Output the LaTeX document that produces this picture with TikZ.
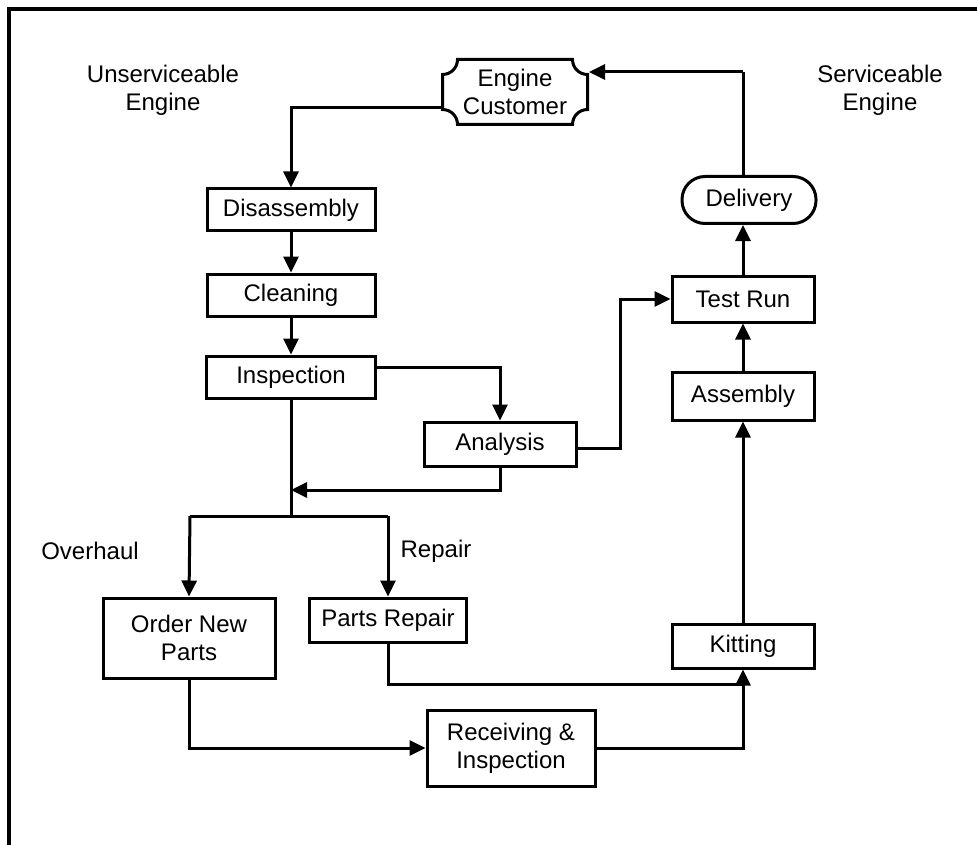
\documentclass[tikz,border=0pt]{standalone}
\usepackage{fontspec}
\setmainfont{Liberation Sans}
\usetikzlibrary{arrows.meta,calc}

\begin{document}
\begin{tikzpicture}[x=1pt,y=-1pt,
  line width=3pt,
  txt/.style={font=\fontsize{24}{28}\selectfont, align=center, inner sep=0pt},
  box/.style={txt, draw, rectangle, minimum height=46pt},
  pill/.style={txt, draw, rectangle, rounded corners=23pt},
  link/.style={-{Triangle[length=16pt,width=15pt]}, line width=3pt},
  wire/.style={line width=3pt}
]
\useasboundingbox (0,0) rectangle (977,845);

% frame: top and left rules
\draw[line width=3.5pt] (9,845) -- (9,9) -- (977,9);

% customer terminal with notched corners
\node[txt, minimum width=145pt, minimum height=65pt] (cust) at (515,92) {Engine\\Customer};
\draw[shift={(cust.center)}]
  (-57.5,-32.5) -- (57.5,-32.5)
  .. controls (57.5,-24.2) and (64.2,-17.5) .. (72.5,-17.5)
  -- (72.5,17.5)
  .. controls (64.2,17.5) and (57.5,24.2) .. (57.5,32.5)
  -- (-57.5,32.5)
  .. controls (-57.5,24.2) and (-64.2,17.5) .. (-72.5,17.5)
  -- (-72.5,-17.5)
  .. controls (-64.2,-17.5) and (-57.5,-24.2) .. (-57.5,-32.5) -- cycle;

% free labels
\node[txt] (unsv) at (163,90) {Unserviceable\\Engine};
\node[txt] (serv) at (880,90) {Serviceable\\Engine};
\node[txt] (ovh) at (90,551) {Overhaul};
\node[txt] (rep) at (436,551) {Repair};

% left column
\node[box, minimum width=168pt, minimum height=42pt] (dis) at (291,210) {Disassembly};
\node[box, minimum width=168pt, minimum height=42pt] (clean) at (291,295) {Cleaning};
\node[box, minimum width=169pt, minimum height=42pt] (insp) at (291,377) {Inspection};
\node[box, minimum width=152pt, minimum height=44pt] (ana) at (500,444) {Analysis};

% branch targets
\node[box, minimum width=172pt, minimum height=80pt] (order) at (189,638) {Order New\\Parts};
\node[box, minimum width=157pt, minimum height=44pt] (prep) at (388,620) {Parts Repair};
\node[box, minimum width=168pt, minimum height=76pt] (recv) at (511,748) {Receiving \&\\Inspection};

% right column
\node[box, minimum width=142pt, minimum height=44pt] (kit) at (743,646) {Kitting};
\node[box, minimum width=142pt, minimum height=48pt] (asm) at (743,396) {Assembly};
\node[box, minimum width=142pt, minimum height=46pt] (test) at (743,299) {Test Run};
\node[pill, minimum width=134pt, minimum height=47pt] (deliv) at (749,200) {Delivery};

% junction points
\coordinate (jc) at (291,108);
\coordinate (jr) at (291,490);
\coordinate (js) at (291,516);
\coordinate (jl) at (190,516);
\coordinate (jp) at (388,516);
\coordinate (jk) at (743,684);
\coordinate (jt) at (743,72);

% incoming engine
\draw[link] (cust.west |- jc) -- (jc) -- (dis.north);
\draw[link] (dis) -- (clean);
\draw[link] (clean) -- (insp);

% inspection to analysis and back
\draw[link] (insp.east |- 0,367) -| (ana.north);
\draw[link] (ana.south) |- (jr);
\draw[link] (ana.east |- 0,448) -- (620,448) |- (test.west);

% overhaul / repair split
\draw[wire] (insp.south) -- (js);
\draw[wire] (jl) -- (jp);
\draw[link] (jl) -- (order.north);
\draw[link] (jp) -- (prep.north);

% parts flow to kitting
\draw[wire] (prep.south) |- (jk);
\draw[link] (order.south) |- (recv.west);
\draw[link] (recv.east) -| (kit.south);

% build-up and dispatch
\draw[link] (kit) -- (asm);
\draw[link] (asm) -- (test);
\draw[link] (test.north) -- (test.north |- deliv.south);
\draw[wire] (test.north |- deliv.north) -- (jt);
\draw[link] (jt) -- (cust.east |- jt);
\end{tikzpicture}
\end{document}
